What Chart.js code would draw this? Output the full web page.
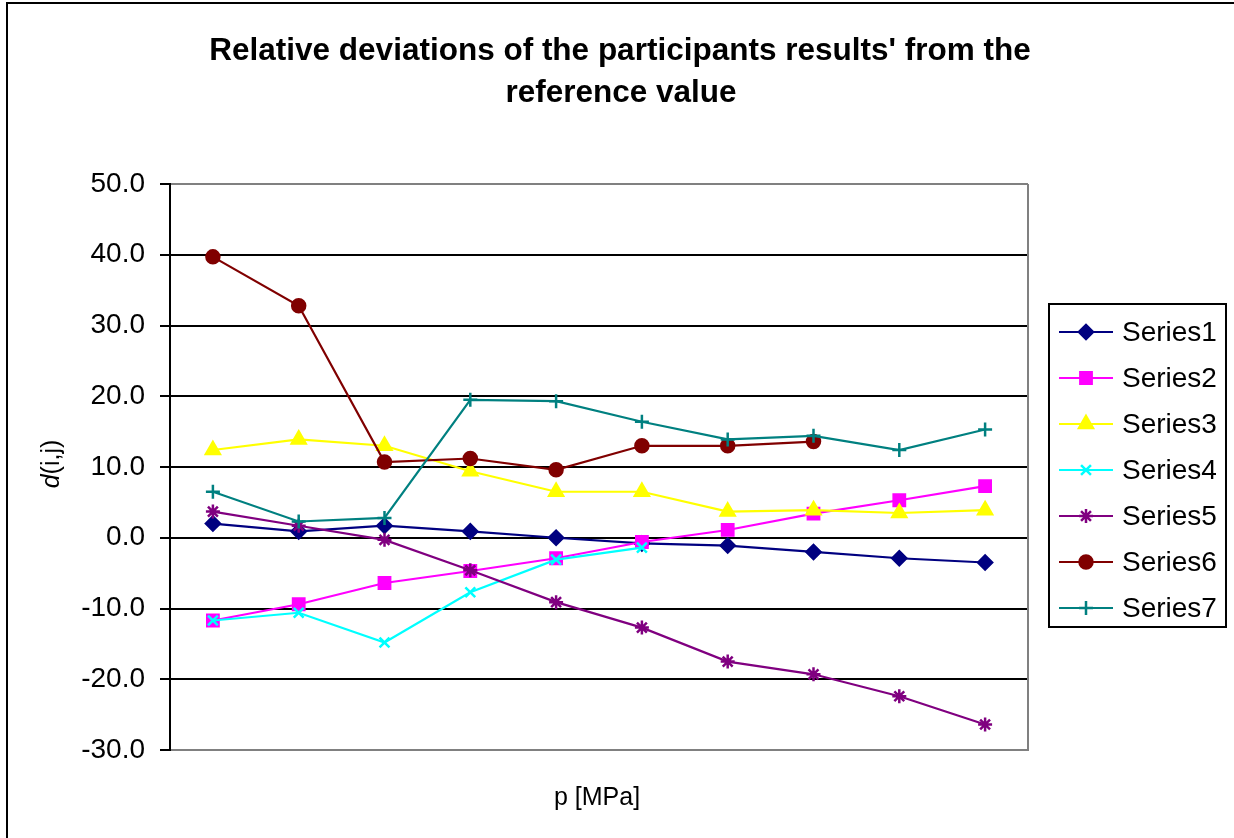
<!DOCTYPE html>
<html>
<head>
<meta charset="utf-8">
<script src="https://cdn.jsdelivr.net/npm/chart.js@4/dist/chart.umd.min.js"></script>
<style>
    html, body { margin: 0; padding: 0; background: #fff; }
    #wrap { width: 1234px; height: 838px; }
</style>
</head>
<body>
<div id="wrap"><canvas id="myChart" width="1234" height="838"></canvas></div>
<script>
const categories = ['1', '2', '3', '4', '5', '6', '7', '8', '9', '10'];
const series1 = [2.0, 0.9, 1.7, 0.9, 0.0, -0.8, -1.1, -2.0, -2.9, -3.5];
const series2 = [-11.7, -9.4, -6.4, -4.7, -2.9, -0.6, 1.1, 3.4, 5.3, 7.3];
const series3 = [12.4, 13.9, 13.0, 9.4, 6.5, 6.5, 3.7, 3.9, 3.5, 3.9];
const series4 = [-11.7, -10.6, -14.8, -7.7, -3.1, -1.4];
const series5 = [3.7, 1.7, -0.3, -4.6, -9.1, -12.7, -17.5, -19.3, -22.4, -26.4];
const series6 = [39.7, 32.8, 10.7, 11.2, 9.6, 13.0, 13.0, 13.6];
const series7 = [6.5, 2.3, 2.8, 19.5, 19.3, 16.4, 13.9, 14.4, 12.4, 15.3];
const yTicks = [-30, -20, -10, 0, 10, 20, 30, 40, 50];

const titleLines = ["Relative deviations of the participants results' from the", 'reference value'];
const xTitle = 'p [MPa]';

const seriesDefs = [
    { label: 'Series1', data: series1, color: '#000080', style: 'rectRot', radius: 7 },
    { label: 'Series2', data: series2, color: '#FF00FF', style: 'rect', radius: 8 },
    { label: 'Series3', data: series3, color: '#FFFF00', style: 'triangle', radius: 8 },
    { label: 'Series4', data: series4, color: '#00FFFF', style: 'crossRot', radius: 7 },
    { label: 'Series5', data: series5, color: '#800080', style: 'star', radius: 7 },
    { label: 'Series6', data: series6, color: '#800000', style: 'circle', radius: 6.5 },
    { label: 'Series7', data: series7, color: '#008080', style: 'cross', radius: 7 }
];

const FONT = 'Arial, "Liberation Sans", sans-serif';

const datasets = seriesDefs.map((s, i) => ({
    label: s.label,
    data: s.data,
    borderColor: s.color,
    backgroundColor: s.color,
    borderWidth: 2.2,
    pointStyle: s.style,
    pointRadius: s.radius,
    pointHoverRadius: s.radius,
    pointBorderWidth: 2.5,
    pointBackgroundColor: s.color,
    pointBorderColor: s.color,
    tension: 0,
    fill: false,
    order: seriesDefs.length - i
}));

// frame, titles and legend drawn by hand, Excel style
const decorations = {
    id: 'decorations',
    beforeDraw(chart) {
        const ctx = chart.ctx;
        ctx.save();
        ctx.fillStyle = '#fff';
        ctx.fillRect(0, 0, chart.width, chart.height);
        ctx.strokeStyle = '#000';
        ctx.lineWidth = 2;
        ctx.strokeRect(7, 3, chart.width + 20, chart.height + 20);
        ctx.restore();
    },
    afterDraw(chart) {
        const ctx = chart.ctx;
        const area = chart.chartArea;
        ctx.save();

        // plot area right edge
        ctx.strokeStyle = '#808080';
        ctx.lineWidth = 2;
        ctx.beginPath();
        ctx.moveTo(area.right, area.top);
        ctx.lineTo(area.right, area.bottom);
        ctx.stroke();

        // chart title
        ctx.fillStyle = '#000';
        ctx.textAlign = 'center';
        ctx.textBaseline = 'middle';
        ctx.font = 'bold 31.5px ' + FONT;
        ctx.fillText(titleLines[0], 620, 51);
        ctx.fillText(titleLines[1], 621, 93);

        // x axis title
        ctx.font = '25px ' + FONT;
        ctx.fillText(xTitle, 597, 798);

        // y axis title: italic d + (i,j)
        ctx.translate(52, 464);
        ctx.rotate(-Math.PI / 2);
        ctx.font = 'italic 25px ' + FONT;
        const dW = ctx.measureText('d').width;
        ctx.font = '25px ' + FONT;
        const restW = ctx.measureText('(i,j)').width;
        let x0 = -(dW + restW) / 2;
        ctx.textAlign = 'left';
        ctx.font = 'italic 25px ' + FONT;
        ctx.fillText('d', x0, 0);
        ctx.font = '25px ' + FONT;
        ctx.fillText('(i,j)', x0 + dW, 0);
        ctx.setTransform(1, 0, 0, 1, 0, 0);

        // legend
        ctx.strokeStyle = '#000';
        ctx.lineWidth = 2;
        ctx.strokeRect(1049, 304, 177, 323);
        ctx.font = '28px ' + FONT;
        ctx.textAlign = 'left';
        ctx.textBaseline = 'middle';
        seriesDefs.forEach((s, i) => {
            const y = 332 + i * 46;
            ctx.strokeStyle = s.color;
            ctx.lineWidth = 2.2;
            ctx.beginPath();
            ctx.moveTo(1059, y);
            ctx.lineTo(1113, y);
            ctx.stroke();
            ctx.fillStyle = s.color;
            ctx.lineWidth = 2.5;
            Chart.helpers.drawPoint(ctx, {
                pointStyle: s.style,
                radius: s.radius,
                rotation: 0,
                borderWidth: 2.5
            }, 1086, y);
            ctx.fillStyle = '#000';
            ctx.fillText(s.label, 1122, y + 1);
        });
        ctx.restore();
    }
};

const chart = new Chart(document.getElementById('myChart').getContext('2d'), {
    type: 'line',
    data: { labels: categories, datasets: datasets },
    options: {
        responsive: false,
        animation: false,
        events: [],
        layout: { padding: { left: 0, top: 184, right: 206, bottom: 88 } },
        plugins: {
            legend: { display: false },
            title: { display: false },
            tooltip: { enabled: false }
        },
        scales: {
            x: {
                offset: true,
                grid: { display: false, drawTicks: false },
                border: { display: true, color: '#808080', width: 2 },
                ticks: { display: false },
                afterFit: s => { s.height = 0; }
            },
            y: {
                min: -30,
                max: 50,
                afterBuildTicks: s => { s.ticks = yTicks.map(v => ({ value: v })); },
                afterFit: s => { s.width = 170; },
                border: { display: true, color: '#000', width: 2 },
                grid: {
                    color: c => (c.tick && c.tick.value === 50 ? '#808080' : (c.tick && c.tick.value === -30 ? 'rgba(0,0,0,0)' : '#000')),
                    lineWidth: 2,
                    tickColor: '#000',
                    tickLength: 10,
                    drawTicks: true
                },
                ticks: {
                    color: '#000',
                    padding: 15,
                    font: { family: FONT, size: 28 },
                    callback: v => Number(v).toFixed(1)
                }
            }
        }
    },
    plugins: [decorations]
});
</script>
</body>
</html>
